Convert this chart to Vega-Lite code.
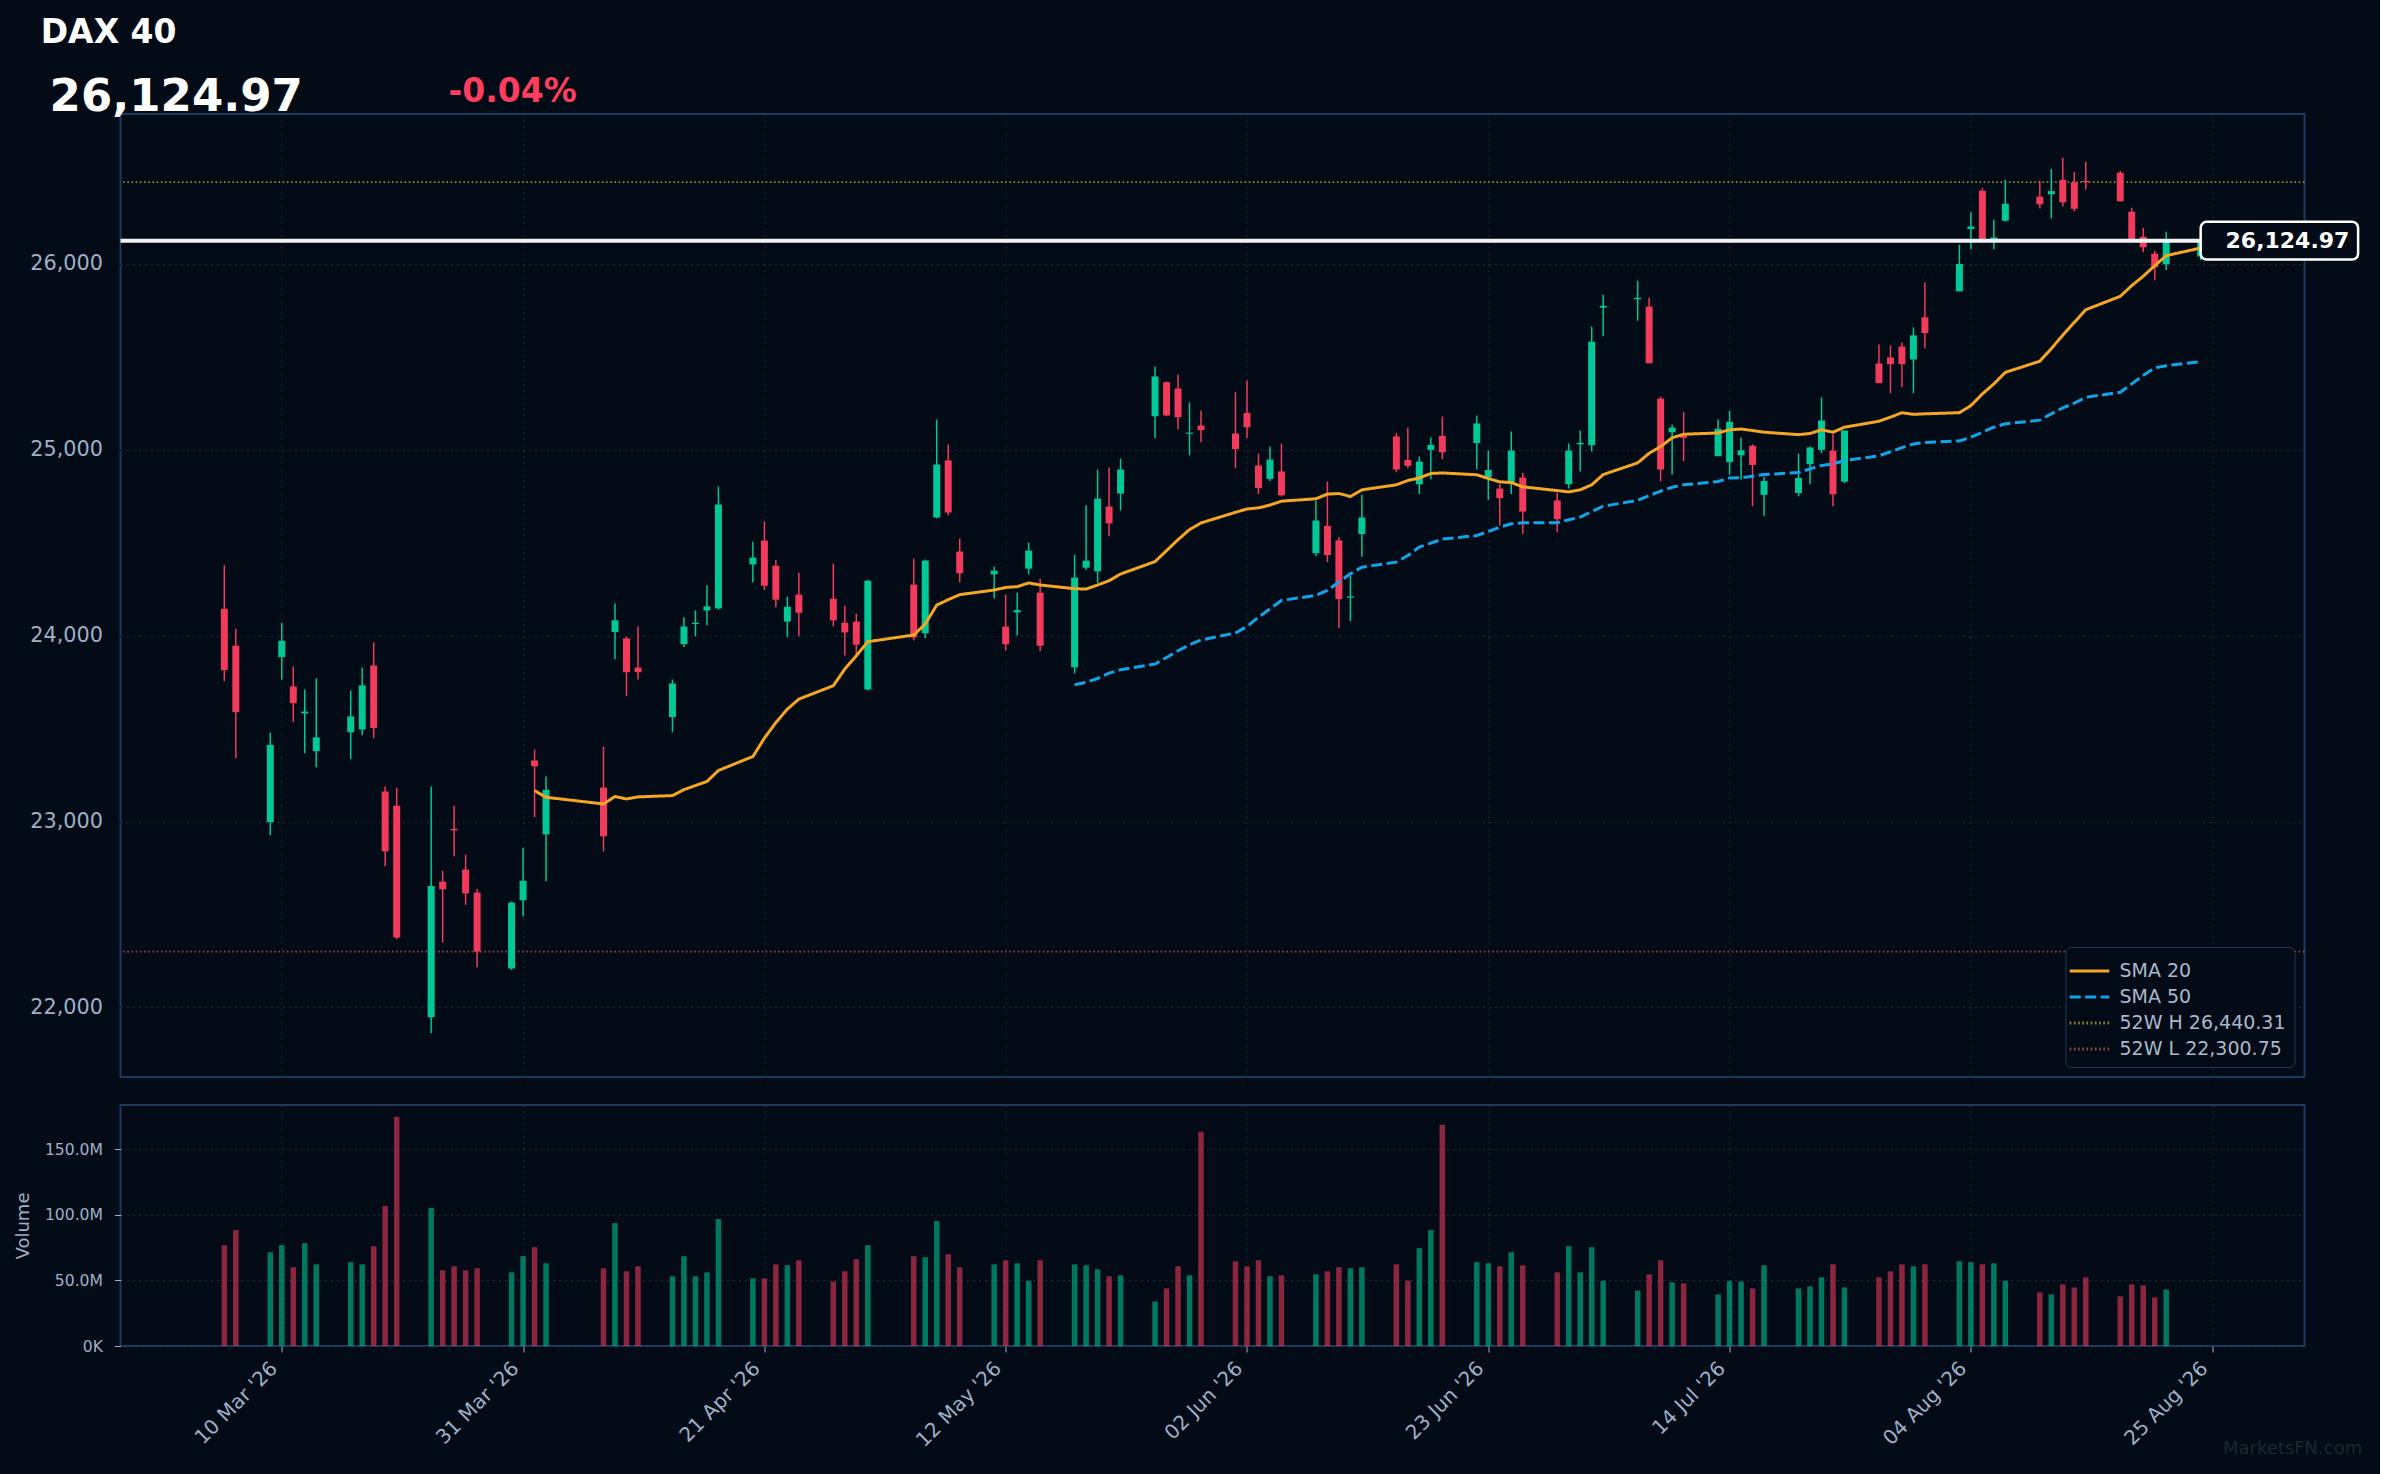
{
  "$schema": "https://vega.github.io/schema/vega-lite/v6.json",
  "background": "#020b16",
  "padding": {"left": 12.5, "right": 16.5, "top": 15, "bottom": 20},
  "spacing": 19,
  "resolve": {
    "scale": {"color": "independent", "strokeDash": "independent"},
    "legend": {"color": "independent", "strokeDash": "independent"}
  },
  "config": {
    "font": "DejaVu Sans",
    "view": {"stroke": "#1e3a5f", "strokeWidth": 2},
    "axis": {
      "labelFont": "DejaVu Sans",
      "titleFont": "DejaVu Sans",
      "labelColor": "#9fb0c8",
      "gridColor": "#1d2d40",
      "gridDash": [2, 4],
      "gridWidth": 1,
      "domain": false,
      "tickSize": 6
    }
  },
  "datasets": {
    "dax": [
      {"d": "2026-03-05", "o": 24145, "h": 24379, "l": 23756, "c": 23815, "v": 76.8, "s20": null, "s50": null},
      {"d": "2026-03-06", "o": 23946, "h": 24038, "l": 23341, "c": 23589, "v": 88.3, "s20": null, "s50": null},
      {"d": "2026-03-09", "o": 22997, "h": 23478, "l": 22927, "c": 23413, "v": 71.4, "s20": null, "s50": null},
      {"d": "2026-03-10", "o": 23885, "h": 24070, "l": 23765, "c": 23973, "v": 76.8, "s20": null, "s50": null},
      {"d": "2026-03-11", "o": 23727, "h": 23835, "l": 23535, "c": 23637, "v": 60.0, "s20": null, "s50": null},
      {"d": "2026-03-12", "o": 23582, "h": 23711, "l": 23368, "c": 23592, "v": 78.3, "s20": null, "s50": null},
      {"d": "2026-03-13", "o": 23379, "h": 23770, "l": 23293, "c": 23453, "v": 62.2, "s20": null, "s50": null},
      {"d": "2026-03-16", "o": 23481, "h": 23706, "l": 23336, "c": 23566, "v": 63.8, "s20": null, "s50": null},
      {"d": "2026-03-17", "o": 23496, "h": 23829, "l": 23465, "c": 23733, "v": 62.2, "s20": null, "s50": null},
      {"d": "2026-03-18", "o": 23840, "h": 23964, "l": 23449, "c": 23503, "v": 76.0, "s20": null, "s50": null},
      {"d": "2026-03-19", "o": 23162, "h": 23189, "l": 22760, "c": 22840, "v": 106.6, "s20": null, "s50": null},
      {"d": "2026-03-20", "o": 23086, "h": 23183, "l": 22367, "c": 22377, "v": 174.7, "s20": null, "s50": null},
      {"d": "2026-03-23", "o": 21947, "h": 23189, "l": 21862, "c": 22654, "v": 105.1, "s20": null, "s50": null},
      {"d": "2026-03-24", "o": 22677, "h": 22736, "l": 22350, "c": 22636, "v": 57.7, "s20": null, "s50": null},
      {"d": "2026-03-25", "o": 22961, "h": 23086, "l": 22813, "c": 22953, "v": 60.7, "s20": null, "s50": null},
      {"d": "2026-03-26", "o": 22742, "h": 22822, "l": 22553, "c": 22614, "v": 57.7, "s20": null, "s50": null},
      {"d": "2026-03-27", "o": 22618, "h": 22639, "l": 22216, "c": 22300.75, "v": 59.2, "s20": null, "s50": null},
      {"d": "2026-03-30", "o": 22210, "h": 22570, "l": 22203, "c": 22564, "v": 56.1, "s20": null, "s50": null},
      {"d": "2026-03-31", "o": 22577, "h": 22860, "l": 22490, "c": 22682, "v": 68.4, "s20": null, "s50": null},
      {"d": "2026-04-01", "o": 23329, "h": 23388, "l": 23024, "c": 23298, "v": 75.3, "s20": 23167, "s50": null},
      {"d": "2026-04-02", "o": 22932, "h": 23243, "l": 22679, "c": 23171, "v": 63.0, "s20": 23131, "s50": null},
      {"d": "2026-04-07", "o": 23183, "h": 23404, "l": 22840, "c": 22921, "v": 59.2, "s20": 23095, "s50": null},
      {"d": "2026-04-08", "o": 24020, "h": 24174, "l": 23874, "c": 24083, "v": 93.6, "s20": 23135, "s50": null},
      {"d": "2026-04-09", "o": 23986, "h": 23995, "l": 23675, "c": 23804, "v": 56.9, "s20": 23122, "s50": null},
      {"d": "2026-04-10", "o": 23829, "h": 24050, "l": 23765, "c": 23804, "v": 60.7, "s20": 23133, "s50": null},
      {"d": "2026-04-13", "o": 23562, "h": 23765, "l": 23481, "c": 23743, "v": 53.1, "s20": 23140, "s50": null},
      {"d": "2026-04-14", "o": 23955, "h": 24099, "l": 23939, "c": 24050, "v": 68.4, "s20": 23172, "s50": null},
      {"d": "2026-04-15", "o": 24063, "h": 24136, "l": 23996, "c": 24070, "v": 53.1, "s20": 23194, "s50": null},
      {"d": "2026-04-16", "o": 24136, "h": 24271, "l": 24056, "c": 24158, "v": 56.1, "s20": 23216, "s50": null},
      {"d": "2026-04-17", "o": 24147, "h": 24803, "l": 24140, "c": 24706, "v": 96.7, "s20": 23275, "s50": null},
      {"d": "2026-04-20", "o": 24384, "h": 24506, "l": 24287, "c": 24420, "v": 51.5, "s20": 23350, "s50": null},
      {"d": "2026-04-21", "o": 24512, "h": 24615, "l": 24246, "c": 24269, "v": 51.5, "s20": 23449, "s50": null},
      {"d": "2026-04-22", "o": 24377, "h": 24408, "l": 24153, "c": 24194, "v": 62.2, "s20": 23533, "s50": null},
      {"d": "2026-04-23", "o": 24076, "h": 24210, "l": 23992, "c": 24156, "v": 61.5, "s20": 23605, "s50": null},
      {"d": "2026-04-24", "o": 24221, "h": 24339, "l": 23997, "c": 24124, "v": 65.3, "s20": 23659, "s50": null},
      {"d": "2026-04-27", "o": 24199, "h": 24388, "l": 24050, "c": 24083, "v": 49.2, "s20": 23731, "s50": null},
      {"d": "2026-04-28", "o": 24070, "h": 24161, "l": 23894, "c": 24018, "v": 56.9, "s20": 23821, "s50": null},
      {"d": "2026-04-29", "o": 24076, "h": 24119, "l": 23894, "c": 23952, "v": 66.1, "s20": 23892, "s50": null},
      {"d": "2026-04-30", "o": 23711, "h": 24300, "l": 23705, "c": 24296, "v": 76.8, "s20": 23968, "s50": null},
      {"d": "2026-05-04", "o": 24275, "h": 24415, "l": 23975, "c": 23991, "v": 68.4, "s20": 24004, "s50": null},
      {"d": "2026-05-05", "o": 24013, "h": 24410, "l": 23986, "c": 24404, "v": 67.6, "s20": 24063, "s50": null},
      {"d": "2026-05-06", "o": 24636, "h": 25163, "l": 24632, "c": 24921, "v": 95.2, "s20": 24165, "s50": null},
      {"d": "2026-05-07", "o": 24943, "h": 25029, "l": 24648, "c": 24663, "v": 69.9, "s20": 24194, "s50": null},
      {"d": "2026-05-08", "o": 24453, "h": 24523, "l": 24287, "c": 24336, "v": 60.0, "s20": 24221, "s50": null},
      {"d": "2026-05-11", "o": 24330, "h": 24372, "l": 24201, "c": 24350, "v": 62.2, "s20": 24246, "s50": null},
      {"d": "2026-05-12", "o": 24049, "h": 24221, "l": 23921, "c": 23954, "v": 65.3, "s20": 24260, "s50": null},
      {"d": "2026-05-13", "o": 24126, "h": 24231, "l": 24001, "c": 24138, "v": 63.0, "s20": 24264, "s50": null},
      {"d": "2026-05-14", "o": 24361, "h": 24501, "l": 24330, "c": 24458, "v": 49.7, "s20": 24284, "s50": null},
      {"d": "2026-05-15", "o": 24232, "h": 24307, "l": 23916, "c": 23946, "v": 65.3, "s20": 24273, "s50": null},
      {"d": "2026-05-18", "o": 23830, "h": 24436, "l": 23797, "c": 24313, "v": 62.2, "s20": 24253, "s50": 23736},
      {"d": "2026-05-19", "o": 24366, "h": 24702, "l": 24355, "c": 24404, "v": 61.5, "s20": 24251, "s50": 23749},
      {"d": "2026-05-20", "o": 24347, "h": 24894, "l": 24284, "c": 24738, "v": 58.4, "s20": 24273, "s50": 23770},
      {"d": "2026-05-21", "o": 24695, "h": 24905, "l": 24535, "c": 24605, "v": 53.1, "s20": 24296, "s50": 23799},
      {"d": "2026-05-22", "o": 24765, "h": 24953, "l": 24674, "c": 24894, "v": 53.8, "s20": 24332, "s50": 23817},
      {"d": "2026-05-25", "o": 25181, "h": 25449, "l": 25063, "c": 25395, "v": 33.9, "s20": 24399, "s50": 23848},
      {"d": "2026-05-26", "o": 25364, "h": 25368, "l": 25181, "c": 25185, "v": 43.9, "s20": 24458, "s50": 23883},
      {"d": "2026-05-27", "o": 25330, "h": 25406, "l": 25111, "c": 25176, "v": 60.7, "s20": 24517, "s50": 23919},
      {"d": "2026-05-28", "o": 25087, "h": 25255, "l": 24971, "c": 25093, "v": 53.8, "s20": 24571, "s50": 23952},
      {"d": "2026-05-29", "o": 25131, "h": 25212, "l": 25041, "c": 25106, "v": 163.3, "s20": 24607, "s50": 23977},
      {"d": "2026-06-01", "o": 25088, "h": 25310, "l": 24901, "c": 25004, "v": 64.5, "s20": 24664, "s50": 24015},
      {"d": "2026-06-02", "o": 25199, "h": 25373, "l": 25063, "c": 25122, "v": 60.7, "s20": 24682, "s50": 24050},
      {"d": "2026-06-03", "o": 24916, "h": 24980, "l": 24762, "c": 24794, "v": 65.3, "s20": 24688, "s50": 24100},
      {"d": "2026-06-04", "o": 24844, "h": 25018, "l": 24832, "c": 24948, "v": 53.1, "s20": 24703, "s50": 24145},
      {"d": "2026-06-05", "o": 24884, "h": 25034, "l": 24750, "c": 24756, "v": 53.8, "s20": 24724, "s50": 24190},
      {"d": "2026-06-08", "o": 24444, "h": 24728, "l": 24428, "c": 24620, "v": 54.6, "s20": 24737, "s50": 24217},
      {"d": "2026-06-09", "o": 24591, "h": 24830, "l": 24396, "c": 24434, "v": 56.9, "s20": 24762, "s50": 24244},
      {"d": "2026-06-10", "o": 24513, "h": 24530, "l": 24041, "c": 24197, "v": 60.0, "s20": 24765, "s50": 24289},
      {"d": "2026-06-11", "o": 24205, "h": 24324, "l": 24079, "c": 24212, "v": 59.2, "s20": 24749, "s50": 24333},
      {"d": "2026-06-12", "o": 24547, "h": 24758, "l": 24425, "c": 24636, "v": 60.0, "s20": 24785, "s50": 24369},
      {"d": "2026-06-15", "o": 25072, "h": 25091, "l": 24880, "c": 24894, "v": 62.2, "s20": 24812, "s50": 24396},
      {"d": "2026-06-16", "o": 24946, "h": 25120, "l": 24901, "c": 24914, "v": 49.7, "s20": 24835, "s50": 24432},
      {"d": "2026-06-17", "o": 24815, "h": 24964, "l": 24762, "c": 24937, "v": 74.5, "s20": 24849, "s50": 24477},
      {"d": "2026-06-18", "o": 25000, "h": 25066, "l": 24842, "c": 25027, "v": 88.3, "s20": 24873, "s50": 24498},
      {"d": "2026-06-19", "o": 25075, "h": 25179, "l": 24950, "c": 24987, "v": 168.6, "s20": 24876, "s50": 24520},
      {"d": "2026-06-22", "o": 25036, "h": 25185, "l": 24896, "c": 25142, "v": 63.8, "s20": 24866, "s50": 24539},
      {"d": "2026-06-23", "o": 24853, "h": 24996, "l": 24731, "c": 24892, "v": 63.0, "s20": 24846, "s50": 24561},
      {"d": "2026-06-24", "o": 24792, "h": 24817, "l": 24593, "c": 24740, "v": 60.7, "s20": 24828, "s50": 24584},
      {"d": "2026-06-25", "o": 24817, "h": 25099, "l": 24762, "c": 24996, "v": 71.4, "s20": 24824, "s50": 24602},
      {"d": "2026-06-26", "o": 24851, "h": 24876, "l": 24547, "c": 24668, "v": 61.5, "s20": 24801, "s50": 24608},
      {"d": "2026-06-29", "o": 24728, "h": 24769, "l": 24557, "c": 24627, "v": 56.1, "s20": 24781, "s50": 24608},
      {"d": "2026-06-30", "o": 24815, "h": 25034, "l": 24792, "c": 24996, "v": 76.0, "s20": 24774, "s50": 24624},
      {"d": "2026-07-01", "o": 25030, "h": 25104, "l": 24884, "c": 25038, "v": 56.1, "s20": 24785, "s50": 24638},
      {"d": "2026-07-02", "o": 25025, "h": 25663, "l": 24991, "c": 25582, "v": 75.3, "s20": 24812, "s50": 24668},
      {"d": "2026-07-03", "o": 25765, "h": 25835, "l": 25611, "c": 25775, "v": 49.7, "s20": 24867, "s50": 24697},
      {"d": "2026-07-06", "o": 25810, "h": 25910, "l": 25695, "c": 25818, "v": 42.3, "s20": 24930, "s50": 24728},
      {"d": "2026-07-07", "o": 25771, "h": 25819, "l": 25466, "c": 25466, "v": 54.6, "s20": 24982, "s50": 24754},
      {"d": "2026-07-08", "o": 25276, "h": 25287, "l": 24830, "c": 24894, "v": 65.3, "s20": 25018, "s50": 24778},
      {"d": "2026-07-09", "o": 25095, "h": 25136, "l": 24867, "c": 25120, "v": 48.5, "s20": 25065, "s50": 24799},
      {"d": "2026-07-10", "o": 25075, "h": 25204, "l": 24939, "c": 25065, "v": 47.7, "s20": 25084, "s50": 24812},
      {"d": "2026-07-13", "o": 24966, "h": 25163, "l": 24966, "c": 25113, "v": 39.3, "s20": 25091, "s50": 24830},
      {"d": "2026-07-14", "o": 24934, "h": 25210, "l": 24867, "c": 25151, "v": 49.7, "s20": 25108, "s50": 24849},
      {"d": "2026-07-15", "o": 24971, "h": 25066, "l": 24839, "c": 24998, "v": 49.2, "s20": 25112, "s50": 24850},
      {"d": "2026-07-16", "o": 25022, "h": 25029, "l": 24697, "c": 24919, "v": 43.9, "s20": 25104, "s50": 24858},
      {"d": "2026-07-17", "o": 24758, "h": 24856, "l": 24646, "c": 24833, "v": 61.5, "s20": 25095, "s50": 24867},
      {"d": "2026-07-20", "o": 24768, "h": 24980, "l": 24750, "c": 24849, "v": 43.9, "s20": 25082, "s50": 24878},
      {"d": "2026-07-21", "o": 24923, "h": 25018, "l": 24815, "c": 25013, "v": 45.4, "s20": 25088, "s50": 24898},
      {"d": "2026-07-22", "o": 25000, "h": 25282, "l": 24982, "c": 25158, "v": 52.3, "s20": 25108, "s50": 24916},
      {"d": "2026-07-23", "o": 24996, "h": 25084, "l": 24697, "c": 24761, "v": 62.2, "s20": 25095, "s50": 24925},
      {"d": "2026-07-24", "o": 24829, "h": 25104, "l": 24820, "c": 25104, "v": 44.6, "s20": 25122, "s50": 24943},
      {"d": "2026-07-27", "o": 25465, "h": 25567, "l": 25359, "c": 25359, "v": 52.3, "s20": 25154, "s50": 24968},
      {"d": "2026-07-28", "o": 25497, "h": 25562, "l": 25305, "c": 25461, "v": 56.9, "s20": 25176, "s50": 24990},
      {"d": "2026-07-29", "o": 25556, "h": 25578, "l": 25337, "c": 25461, "v": 62.2, "s20": 25200, "s50": 25012},
      {"d": "2026-07-30", "o": 25486, "h": 25659, "l": 25305, "c": 25616, "v": 60.7, "s20": 25191, "s50": 25032},
      {"d": "2026-07-31", "o": 25713, "h": 25900, "l": 25547, "c": 25628, "v": 62.2, "s20": 25194, "s50": 25040},
      {"d": "2026-08-03", "o": 25853, "h": 26104, "l": 25853, "c": 26000, "v": 64.5, "s20": 25200, "s50": 25048},
      {"d": "2026-08-04", "o": 26188, "h": 26278, "l": 26079, "c": 26202, "v": 63.8, "s20": 25238, "s50": 25068},
      {"d": "2026-08-05", "o": 26394, "h": 26410, "l": 26120, "c": 26125, "v": 62.2, "s20": 25301, "s50": 25095},
      {"d": "2026-08-06", "o": 26134, "h": 26238, "l": 26079, "c": 26143, "v": 63.0, "s20": 25355, "s50": 25122},
      {"d": "2026-08-07", "o": 26233, "h": 26453, "l": 26228, "c": 26324, "v": 49.7, "s20": 25417, "s50": 25140},
      {"d": "2026-08-10", "o": 26362, "h": 26448, "l": 26299, "c": 26321, "v": 40.8, "s20": 25477, "s50": 25160},
      {"d": "2026-08-11", "o": 26375, "h": 26511, "l": 26245, "c": 26392, "v": 39.3, "s20": 25545, "s50": 25194},
      {"d": "2026-08-12", "o": 26453, "h": 26572, "l": 26310, "c": 26332, "v": 46.9, "s20": 25617, "s50": 25226},
      {"d": "2026-08-13", "o": 26439, "h": 26496, "l": 26283, "c": 26297, "v": 44.6, "s20": 25686, "s50": 25251},
      {"d": "2026-08-14", "o": 26447, "h": 26550, "l": 26401, "c": 26440.31, "v": 52.3, "s20": 25754, "s50": 25283},
      {"d": "2026-08-17", "o": 26491, "h": 26502, "l": 26337, "c": 26337, "v": 37.8, "s20": 25826, "s50": 25310},
      {"d": "2026-08-18", "o": 26281, "h": 26302, "l": 26133, "c": 26133, "v": 46.9, "s20": 25884, "s50": 25355},
      {"d": "2026-08-19", "o": 26147, "h": 26195, "l": 26063, "c": 26090, "v": 46.2, "s20": 25934, "s50": 25400},
      {"d": "2026-08-20", "o": 26056, "h": 26072, "l": 25912, "c": 25982, "v": 37.0, "s20": 25991, "s50": 25441},
      {"d": "2026-08-21", "o": 25998, "h": 26174, "l": 25968, "c": 26135, "v": 43.1, "s20": 26045, "s50": 25453},
      {"d": "2026-08-24", "o": 26040, "h": 26180, "l": 26020, "c": 26124.97, "v": null, "s20": 26086, "s50": 25475}
    ]
  },
  "vconcat": [
    {
      "width": 2184,
      "height": 963,
      "data": {"name": "dax"},
      "layer": [
        {
          "data": {"values": [{}]},
          "mark": {"type": "rule", "strokeWidth": 1.6},
          "encoding": {
            "y": {"datum": 26440.31, "type": "quantitative"},
            "color": {"datum": "52W H 26,440.31", "type": "nominal",
              "scale": {"domain": ["SMA 20", "SMA 50", "52W H 26,440.31", "52W L 22,300.75"], "range": ["#f5a623", "#12a4e8", "#8f8a2e", "#9a4a36"]},
              "legend": {"orient": "bottom-right", "offset": 10, "title": null, "fillColor": "#020b16", "strokeColor": "#1e3a5f", "cornerRadius": 5, "padding": 8, "labelColor": "#a9b8cc", "labelFontSize": 19, "labelLimit": 400, "labelFont": "DejaVu Sans", "symbolType": "M-1.4,0H1.4", "symbolSize": 800, "symbolStrokeWidth": 3, "rowPadding": 0, "labelOffset": 14}},
            "strokeDash": {"datum": "52W H 26,440.31", "type": "nominal",
              "scale": {"domain": ["SMA 20", "SMA 50", "52W H 26,440.31", "52W L 22,300.75"], "range": [[1, 0], [11, 4.5], [1.6, 2.6], [1.6, 2.6]]},
              "legend": {"orient": "bottom-right", "offset": 10, "title": null, "fillColor": "#020b16", "strokeColor": "#1e3a5f", "cornerRadius": 5, "padding": 8, "labelColor": "#a9b8cc", "labelFontSize": 19, "labelLimit": 400, "labelFont": "DejaVu Sans", "symbolType": "M-1.4,0H1.4", "symbolSize": 800, "symbolStrokeWidth": 3, "rowPadding": 0, "labelOffset": 14}}
          }
        },
        {
          "data": {"values": [{}]},
          "mark": {"type": "rule", "strokeWidth": 1.6},
          "encoding": {
            "y": {"datum": 22300.75, "type": "quantitative"},
            "color": {"datum": "52W L 22,300.75", "type": "nominal"},
            "strokeDash": {"datum": "52W L 22,300.75", "type": "nominal"}
          }
        },
        {
          "mark": {"type": "rule", "strokeWidth": 1.5},
          "encoding": {
            "x": {"field": "d", "type": "temporal",
              "scale": {"type": "utc", "domain": [{"year": 2026, "month": "feb", "date": 24, "hours": 9, "minutes": 36, "utc": true}, {"year": 2026, "month": "sep", "date": 1, "hours": 14, "minutes": 24, "utc": true}]},
              "axis": {"title": null, "labels": false, "ticks": true, "tickColor": "#03070d", "grid": true,
                "values": [
                  {"year": 2026, "month": "mar", "date": 10, "utc": true},
                  {"year": 2026, "month": "mar", "date": 31, "utc": true},
                  {"year": 2026, "month": "apr", "date": 21, "utc": true},
                  {"year": 2026, "month": "may", "date": 12, "utc": true},
                  {"year": 2026, "month": "jun", "date": 2, "utc": true},
                  {"year": 2026, "month": "jun", "date": 23, "utc": true},
                  {"year": 2026, "month": "jul", "date": 14, "utc": true},
                  {"year": 2026, "month": "aug", "date": 4, "utc": true},
                  {"year": 2026, "month": "aug", "date": 25, "utc": true}
                ]}},
            "y": {"field": "l", "type": "quantitative",
              "scale": {"domain": [21626, 26807], "zero": false, "nice": false},
              "axis": {"title": null, "values": [22000, 23000, 24000, 25000, 26000], "format": ",d", "labelFontSize": 20.8, "labelPadding": 12, "tickColor": "#03070d", "grid": true}},
            "y2": {"field": "h"},
            "color": {"condition": {"test": "datum.c >= datum.o", "value": "#00c896"}, "value": "#f23b5c"}
          }
        },
        {
          "mark": {"type": "bar", "size": 7},
          "encoding": {
            "x": {"field": "d", "type": "temporal"},
            "y": {"field": "o", "type": "quantitative"},
            "y2": {"field": "c"},
            "color": {"condition": {"test": "datum.c >= datum.o", "value": "#00c896"}, "value": "#f23b5c"}
          }
        },
        {
          "mark": {"type": "line", "strokeWidth": 3},
          "encoding": {
            "x": {"field": "d", "type": "temporal"},
            "y": {"field": "s20", "type": "quantitative"},
            "color": {"datum": "SMA 20", "type": "nominal"},
            "strokeDash": {"datum": "SMA 20", "type": "nominal"}
          }
        },
        {
          "mark": {"type": "line", "strokeWidth": 3},
          "encoding": {
            "x": {"field": "d", "type": "temporal"},
            "y": {"field": "s50", "type": "quantitative"},
            "color": {"datum": "SMA 50", "type": "nominal"},
            "strokeDash": {"datum": "SMA 50", "type": "nominal"}
          }
        },
        {
          "data": {"values": [{}]},
          "mark": {"type": "rule", "color": "#ffffff", "strokeWidth": 4, "opacity": 0.95},
          "encoding": {"y": {"datum": 26124.97, "type": "quantitative"}}
        },
        {
          "data": {"values": [{}]},
          "mark": {"type": "rect", "fill": "#020b16", "stroke": "#ffffff", "strokeWidth": 2.5, "cornerRadius": 6},
          "encoding": {
            "x": {"datum": {"year": 2026, "month": "aug", "date": 24, "utc": true}},
            "x2": {"datum": {"year": 2026, "month": "sep", "date": 6, "hours": 16, "minutes": 48, "utc": true}},
            "y": {"datum": 26227, "type": "quantitative"},
            "y2": {"datum": 26024}
          }
        },
        {
          "data": {"values": [{}]},
          "mark": {"type": "text", "text": "26,124.97", "align": "right", "baseline": "middle", "fontSize": 22, "fontWeight": "bold", "color": "#ffffff"},
          "encoding": {
            "x": {"datum": {"year": 2026, "month": "sep", "date": 5, "hours": 22, "minutes": 36, "utc": true}},
            "y": {"datum": 26124.97, "type": "quantitative"}
          }
        },
        {
          "data": {"values": [{}]},
          "mark": {"type": "text", "text": "DAX 40", "align": "left", "baseline": "alphabetic", "fontSize": 33, "fontWeight": "bold", "color": "#ffffff"},
          "encoding": {
            "x": {"datum": {"year": 2026, "month": "feb", "date": 17, "hours": 0, "minutes": 30, "utc": true}},
            "y": {"datum": 27191, "type": "quantitative"}
          }
        },
        {
          "data": {"values": [{}]},
          "mark": {"type": "text", "text": "26,124.97", "align": "left", "baseline": "alphabetic", "fontSize": 45, "fontWeight": "bold", "color": "#ffffff"},
          "encoding": {
            "x": {"datum": {"year": 2026, "month": "feb", "date": 17, "hours": 19, "minutes": 0, "utc": true}},
            "y": {"datum": 26823, "type": "quantitative"}
          }
        },
        {
          "data": {"values": [{}]},
          "mark": {"type": "text", "text": "-0.04%", "align": "left", "baseline": "alphabetic", "fontSize": 33, "fontWeight": "bold", "color": "#ff3d5f"},
          "encoding": {
            "x": {"datum": {"year": 2026, "month": "mar", "date": 24, "hours": 12, "minutes": 24, "utc": true}},
            "y": {"datum": 26871.6, "type": "quantitative"}
          }
        }
      ]
    },
    {
      "width": 2184,
      "height": 241,
      "data": {"name": "dax"},
      "layer": [
        {
          "mark": {"type": "bar", "size": 5.5, "opacity": 0.58},
          "encoding": {
            "x": {"field": "d", "type": "temporal",
              "scale": {"type": "utc", "domain": [{"year": 2026, "month": "feb", "date": 24, "hours": 9, "minutes": 36, "utc": true}, {"year": 2026, "month": "sep", "date": 1, "hours": 14, "minutes": 24, "utc": true}]},
              "axis": {"title": null, "format": "%d %b '%y", "labelAngle": -45, "labelFontSize": 20, "labelPadding": 6, "labelOffset": -15, "tickColor": "#9fb0c8", "grid": true,
                "values": [
                  {"year": 2026, "month": "mar", "date": 10, "utc": true},
                  {"year": 2026, "month": "mar", "date": 31, "utc": true},
                  {"year": 2026, "month": "apr", "date": 21, "utc": true},
                  {"year": 2026, "month": "may", "date": 12, "utc": true},
                  {"year": 2026, "month": "jun", "date": 2, "utc": true},
                  {"year": 2026, "month": "jun", "date": 23, "utc": true},
                  {"year": 2026, "month": "jul", "date": 14, "utc": true},
                  {"year": 2026, "month": "aug", "date": 4, "utc": true},
                  {"year": 2026, "month": "aug", "date": 25, "utc": true}
                ]}},
            "y": {"field": "v", "type": "quantitative",
              "scale": {"domain": [0, 183.6], "nice": false},
              "axis": {"title": "Volume", "titleColor": "#9fb0c8", "titleFontSize": 18, "titleFontWeight": "normal", "titlePadding": 12, "values": [0, 50, 100, 150], "labelExpr": "datum.value == 0 ? '0K' : format(datum.value, '.1f') + 'M'", "labelFontSize": 15.6, "labelPadding": 12, "tickColor": "#9fb0c8", "grid": true}},
            "color": {"condition": {"test": "datum.c >= datum.o", "value": "#00c896"}, "value": "#f23b5c"}
          }
        },
        {
          "data": {"values": [{}]},
          "mark": {"type": "text", "text": "MarketsFN.com", "align": "right", "baseline": "alphabetic", "fontSize": 18, "color": "#1c2633"},
          "encoding": {
            "x": {"datum": {"year": 2026, "month": "sep", "date": 7, "hours": 1, "minutes": 30, "utc": true}},
            "y": {"datum": -82.6, "type": "quantitative"}
          }
        }
      ]
    }
  ]
}
